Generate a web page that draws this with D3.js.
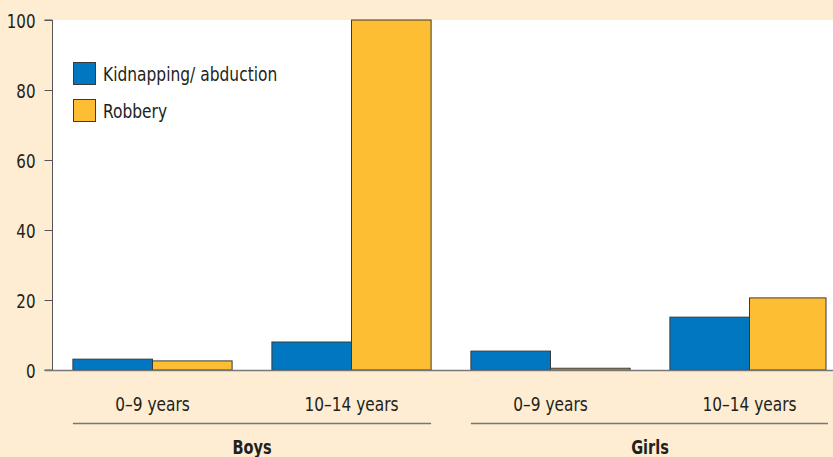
<!DOCTYPE html>
<html><head><meta charset="utf-8">
<script src="https://cdn.jsdelivr.net/npm/d3@7"></script>
<style>body{margin:0;background:#FEEDD2;}svg{display:block;}text{font-family:"DejaVu Sans Condensed","Liberation Sans Narrow",sans-serif;fill:#231f20;}</style>
</head><body>
<script>
const groups = ["Boys", "Girls"];
const ageBands = ["0–9 years", "10–14 years"];
const categories = [["Boys","0–9 years"],["Boys","10–14 years"],["Girls","0–9 years"],["Girls","10–14 years"]];
const seriesNames = ["Kidnapping/ abduction", "Robbery"];
const kidnapping = [3.1, 8.0, 5.4, 15.1];
const robbery = [2.6, 100, 0.5, 20.6];
const yTicks = [0, 20, 40, 60, 80, 100];
const colors = ["#0077C0", "#FDBE33"];

const W = 833, H = 457;
const svg = d3.select("body").append("svg").attr("width", W).attr("height", H);
svg.append("rect").attr("width", W).attr("height", H).attr("fill", "#FEEDD2");

const x0 = 53, yTop = 20, yBot = 370;
const y = d3.scaleLinear().domain([0, 100]).range([yBot, yTop]);
const xCat = d3.scaleBand().domain(d3.range(categories.length)).range([x0, 849]).paddingInner(0.2).paddingOuter(0.1);
const xSer = d3.scaleBand().domain(d3.range(seriesNames.length)).range([0, xCat.bandwidth()]);

svg.append("rect").attr("x", x0).attr("y", yTop).attr("width", W - x0).attr("height", yBot - yTop).attr("fill", "#fff");

function ctext(parent, x, yy, sx, txt, size, anchor, bold) {
  return parent.append("text").attr("transform", `translate(${x},${yy}) scale(${sx},1)`)
    .attr("text-anchor", anchor).style("font-size", size + "px")
    .style("font-weight", bold ? "bold" : "normal").text(txt);
}

const series = [kidnapping, robbery];
const barsG = svg.append("g");
series.forEach((vals, s) => {
  barsG.selectAll(null).data(vals).enter().append("rect")
    .attr("x", (d, i) => xCat(i) + xSer(s))
    .attr("y", d => y(d))
    .attr("width", (d, i) => Math.min(xSer.bandwidth(), W - 7 - (xCat(i) + xSer(s))))
    .attr("height", d => yBot - y(d))
    .attr("fill", colors[s])
    .attr("stroke", "#3a3a3a").attr("stroke-width", 1);
});

// y axis
const sxT = 0.84;
const yAxis = d3.axisLeft(y).tickValues(yTicks).tickSize(8).tickPadding(10).tickFormat(d3.format("d"));
const ag = svg.append("g").attr("transform", `translate(${x0 - 0.5},0)`).call(yAxis);
ag.select(".domain").attr("stroke", "#555").attr("d", `M-8,${yBot}H0V${yTop}H-8`);
ag.selectAll(".tick line").attr("stroke", "#555");
ag.selectAll(".tick text").style("font-size", "20px").attr("fill", "#231f20")
  .attr("transform", `scale(${sxT},1)`).attr("x", -17 / sxT).attr("dy", "0.36em");

// baseline
svg.append("line").attr("x1", x0 - 8).attr("x2", W).attr("y1", yBot + 0.5).attr("y2", yBot + 0.5).attr("stroke", "#777").attr("stroke-width", 1.5);

// category labels
categories.forEach((c, i) => {
  ctext(svg, xCat(i) + xCat.bandwidth() / 2, 411, 0.9, c[1], 19, "middle", false);
});

// group lines and labels
groups.forEach((g, gi) => {
  const idx = categories.map((c, i) => c[0] === g ? i : -1).filter(i => i >= 0);
  const a = xCat(idx[0]), b = Math.min(xCat(idx[idx.length - 1]) + xCat.bandwidth(), W - 5);
  svg.append("line").attr("x1", a).attr("x2", b).attr("y1", 423.5).attr("y2", 423.5).attr("stroke", "#777").attr("stroke-width", 1.5);
  ctext(svg, (xCat(idx[0]) + xCat(idx[idx.length-1]) + xCat.bandwidth()) / 2, 454, 0.85, g, 19, "middle", true);
});

// legend
const lg = svg.append("g");
seriesNames.forEach((n, i) => {
  lg.append("rect").attr("x", 73.5).attr("y", 62.5 + i * 37).attr("width", 22).attr("height", 22)
    .attr("fill", colors[i]).attr("stroke", "#3a3a3a");
  ctext(lg, 103, 81 + i * 37, 0.86, n, 20, "start", false);
});
</script>
</body></html>
